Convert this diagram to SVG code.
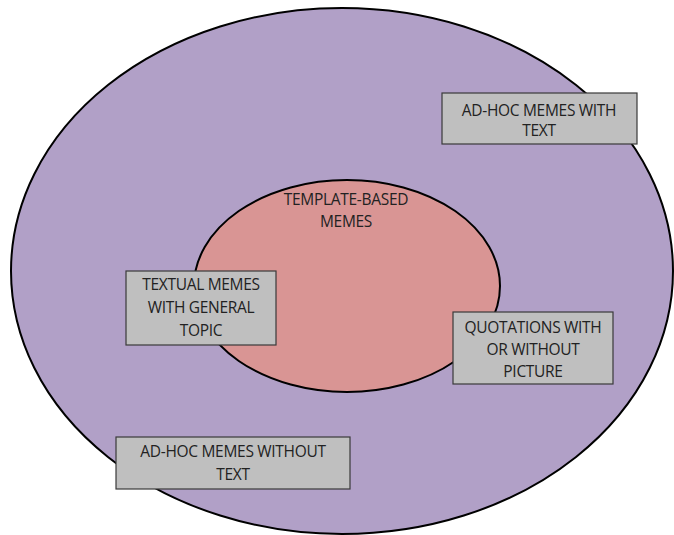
<svg xmlns="http://www.w3.org/2000/svg" width="674" height="535" viewBox="0 0 674 535">
<style>
.bg{fill:#ffffff}
.outer{fill:#b1a0c7;stroke:#000;stroke-width:2}
.inner{fill:#d99594;stroke:#000;stroke-width:2}
.box{fill:#bfbfbf;stroke:#3a3a3a;stroke-width:1.2}
text{font-family:"Open Sans","Liberation Sans",sans-serif;font-size:15.5px;fill:#222;text-anchor:middle;letter-spacing:-0.3px}
</style>
<rect class="bg" x="0" y="0" width="674" height="535"/>
<g id="outer-set">
<ellipse class="outer" cx="342" cy="271" rx="331" ry="263"/>
</g>
<g id="template-based">
<ellipse class="inner" cx="347" cy="286" rx="153" ry="106"/>
<text x="346" y="205">TEMPLATE-BASED</text>
<text x="346" y="227">MEMES</text>
</g>
<g id="adhoc-with-text">
<rect class="box" x="442" y="93" width="195" height="51"/>
<text x="539" y="116">AD-HOC MEMES WITH</text>
<text x="539" y="136">TEXT</text>
</g>
<g id="textual-memes">
<rect class="box" x="126" y="271" width="150" height="74"/>
<text x="201" y="290">TEXTUAL MEMES</text>
<text x="201" y="313">WITH GENERAL</text>
<text x="201" y="336">TOPIC</text>
</g>
<g id="quotations">
<rect class="box" x="453" y="312" width="160" height="72"/>
<text x="533" y="333">QUOTATIONS WITH</text>
<text x="533" y="355">OR WITHOUT</text>
<text x="533" y="377">PICTURE</text>
</g>
<g id="adhoc-without-text">
<rect class="box" x="116" y="437" width="234" height="52"/>
<text x="233" y="457">AD-HOC MEMES WITHOUT</text>
<text x="233" y="480">TEXT</text>
</g>
<g id="connectors"></g>
</svg>
